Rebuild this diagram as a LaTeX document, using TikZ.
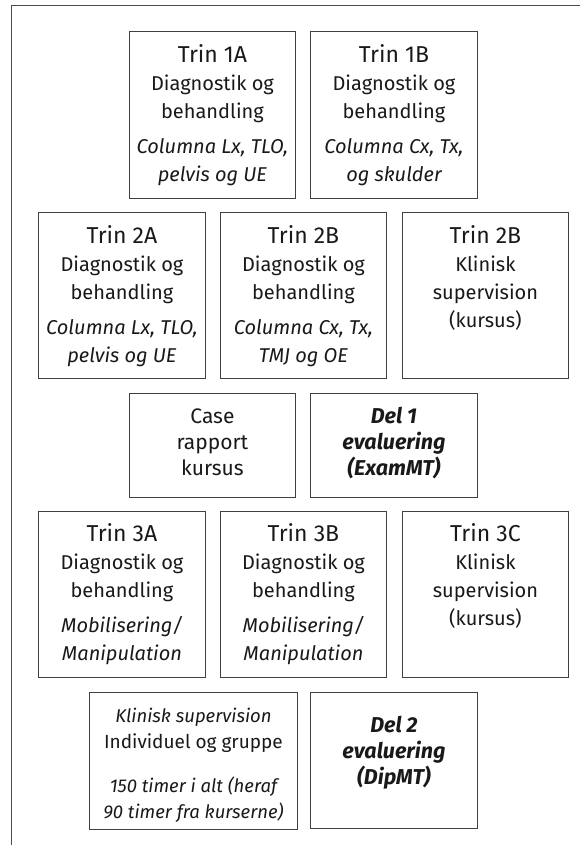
\documentclass[tikz,border=0pt]{standalone}
\usepackage{fontspec}
\setmainfont{Fira Sans}
\begin{document}
\begin{tikzpicture}[x=1pt,y=-1pt]
\tikzset{
  box/.style={draw=black!75, line width=0.9pt, inner sep=0pt, anchor=north west},
  txt/.style={align=center, inner sep=0pt, anchor=north, text=black!90,
    font=\fontsize{20}{28}\selectfont},
  ctxt/.style={align=center, inner sep=0pt, anchor=north, text=black!90,
    font=\fontsize{21}{26}\selectfont},
  btxt/.style={align=center, inner sep=0pt, anchor=north, text=black!90,
    font=\fontsize{21.5}{26}\selectfont\bfseries\itshape},
  frame/.style={draw=black!70, line width=1.3pt}
}
\newcommand{\ttl}[1]{{\fontsize{23}{28}\selectfont\rule{0pt}{18pt}#1}}
\newcommand{\itx}[1]{{\fontsize{20}{28}\selectfont\itshape #1}}
\newcommand{\itk}[1]{{\fontsize{18.5}{26}\selectfont\itshape #1}}
\newcommand{\fr}{\rule{0pt}{18pt}}
\useasboundingbox (0,0) rectangle (580,845);
% frame
\coordinate (fbl) at (11.5,845);
\coordinate (ftl) at (11.5,5.5);
\coordinate (ftr) at (580,5.5);
\draw[frame] (fbl) -- (ftl) -- (ftr);
% row 1
\node[box, minimum width=166pt, minimum height=167pt] (t1a) at (129,31) {};
\node[box, minimum width=167pt, minimum height=167pt] (t1b) at (310,31) {};
% row 2
\node[box, minimum width=167pt, minimum height=166pt] (t2a) at (38,212) {};
\node[box, minimum width=166pt, minimum height=166pt] (t2b) at (220,212) {};
\node[box, minimum width=166pt, minimum height=166pt] (t2c) at (402,212) {};
% row 3
\node[box, minimum width=166pt, minimum height=104pt] (case) at (129,393) {};
\node[box, minimum width=167pt, minimum height=104pt] (del1) at (310,393) {};
% row 4
\node[box, minimum width=167pt, minimum height=166pt] (t3a) at (38,511) {};
\node[box, minimum width=166pt, minimum height=166pt] (t3b) at (220,511) {};
\node[box, minimum width=166pt, minimum height=166pt] (t3c) at (402,511) {};
% row 5
\node[box, minimum width=208pt, minimum height=137pt] (klin) at (89,692) {};
\node[box, minimum width=167pt, minimum height=136pt] (del2) at (310,692) {};
% texts
\node[txt] (t1at) at ([yshift=-13pt]t1a.north) {\ttl{Trin 1A}\\ Diagnostik og\\ behandling\\[7pt] \itx{Columna Lx, TLO,}\\ \itx{pelvis og UE}};
\node[txt] (t1bt) at ([yshift=-13pt]t1b.north) {\ttl{Trin 1B}\\ Diagnostik og\\ behandling\\[7pt] \itx{Columna Cx, Tx,}\\ \itx{og skulder}};
\node[txt] (t2at) at ([yshift=-13pt]t2a.north) {\ttl{Trin 2A}\\ Diagnostik og\\ behandling\\[7pt] \itx{Columna Lx, TLO,}\\ \itx{pelvis og UE}};
\node[txt] (t2bt) at ([yshift=-13pt]t2b.north) {\ttl{Trin 2B}\\ Diagnostik og\\ behandling\\[7pt] \itx{Columna Cx, Tx,}\\ \itx{TMJ og OE}};
\node[txt] (t2ct) at ([yshift=-13pt]t2c.north) {\ttl{Trin 2B}\\ Klinisk\\ supervision\\ (kursus)};
\node[ctxt] (caset) at ([yshift=-12pt]case.north) {\fr Case\\ rapport\\ kursus};
\node[btxt] (del1t) at ([yshift=-12pt]del1.north) {\fr Del 1\\ evaluering\\ (ExamMT)};
\node[txt] (t3at) at ([yshift=-12pt]t3a.north) {\ttl{Trin 3A}\\ Diagnostik og\\ behandling\\[7pt] \itx{Mobilisering/}\\ \itx{Manipulation}};
\node[txt] (t3bt) at ([yshift=-12pt]t3b.north) {\ttl{Trin 3B}\\ Diagnostik og\\ behandling\\[7pt] \itx{Mobilisering/}\\ \itx{Manipulation}};
\node[txt] (t3ct) at ([yshift=-12pt]t3c.north) {\ttl{Trin 3C}\\ Klinisk\\ supervision\\ (kursus)};
\node[txt, font=\fontsize{19}{26}\selectfont] (klint) at ([yshift=-12pt]klin.north) {\fr\itk{Klinisk supervision}\\ Individuel og gruppe\\[18pt] \itk{150 timer i alt (heraf}\\ \itk{90 timer fra kurserne)}};
\node[btxt] (del2t) at ([yshift=-22pt]del2.north) {\fr Del 2\\ evaluering\\ (DipMT)};
\end{tikzpicture}
\end{document}
